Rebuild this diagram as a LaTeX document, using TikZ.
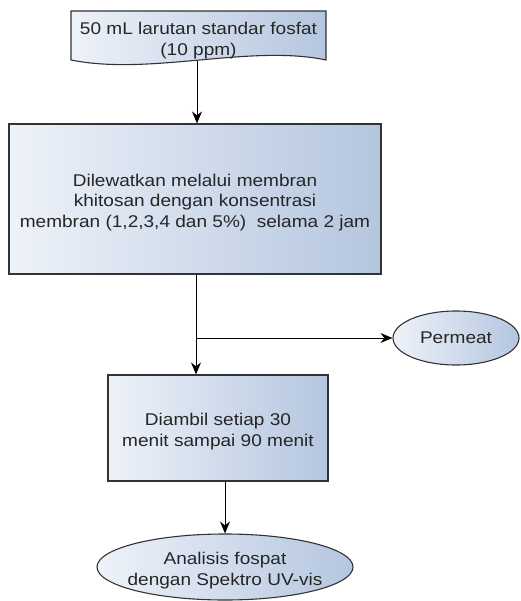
\documentclass[tikz,border=0pt]{standalone}
\usepackage{fontspec}
\setmainfont[FakeStretch=1.12]{Liberation Sans}
\usetikzlibrary{arrows.meta,shapes.geometric}
\definecolor{gl}{HTML}{EEF2F9}
\definecolor{gr}{HTML}{B4C6DF}
\definecolor{bd}{HTML}{333333}
\tikzset{
  fillgrad/.style={left color=gl,right color=gr},
  boxstyle/.style={draw=bd,line width=1.1pt,fillgrad,rectangle,align=center,inner sep=0pt},
  ellstyle/.style={draw=bd,line width=1.1pt,fillgrad,ellipse,align=center,inner sep=0pt},
  txt/.style={font=\fontsize{17}{20.5}\selectfont,text=black!85,align=center},
  lbl/.style={label={[txt,yshift=-3.5pt]center:{#1}}},
  arr/.style={-{Stealth[length=12pt,width=10pt]},line width=1pt,draw=black},
  ln/.style={line width=1pt,draw=black}
}
\begin{document}
\begin{tikzpicture}[x=1pt,y=-1pt]
\useasboundingbox (0,0) rectangle (520,601);
% document shape
\path[draw=bd,line width=1.1pt,fillgrad] (71,11) -- (326,11) -- (326,60)
  .. controls (250,44) and (150,76) .. (71,60) -- cycle;
\node[txt,minimum width=255pt,minimum height=49pt,inner sep=0pt] (doc) at (198.5,40.5)
  {50 mL larutan standar fosfat\\(10 ppm)};
\coordinate (docb) at (197,61);
\node[boxstyle,minimum width=372pt,minimum height=150pt,
  lbl={Dilewatkan melalui membran\\khitosan dengan konsentrasi\\membran (1,2,3,4 dan 5\%)\ \ selama 2 jam}] (b1) at (195,199) {};
\node[boxstyle,minimum width=220pt,minimum height=106pt,
  lbl={Diambil setiap 30\\menit sampai 90 menit}] (b2) at (218,428) {};
\node[ellstyle,txt,minimum width=126pt,minimum height=54pt] (perm) at (456,338) {Permeat};
\node[ellstyle,minimum width=256pt,minimum height=66pt,
  lbl={Analisis fospat\\dengan Spektro UV-vis}] (ana) at (225,567) {};
\coordinate (j) at (196,338);
\draw[arr] (docb) -- (docb |- b1.north);
\draw[ln] (b1.south -| j) -- (j);
\draw[arr] (j) -- (j |- b2.north);
\draw[arr] (j) -- (perm.west);
\draw[arr] (b2.south -| ana.north) -- (ana.north);
\end{tikzpicture}
\end{document}
